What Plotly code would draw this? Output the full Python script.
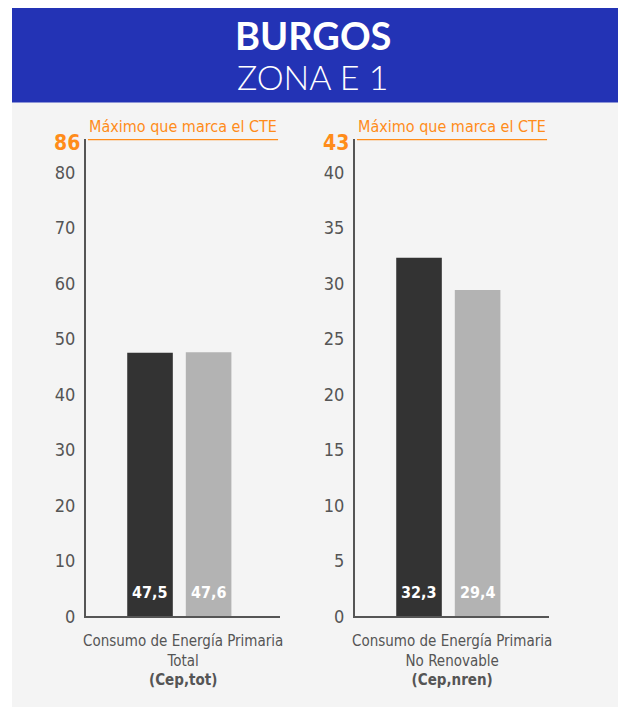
import plotly.graph_objects as go

# ---- data ----
series_names = ["Proyecto", "Referencia"]
values_tot = [47.5, 47.6]
values_nren = [32.3, 29.4]
max_tot = 86
max_nren = 43
ticks_tot = [0, 10, 20, 30, 40, 50, 60, 70, 80]
ticks_nren = [0, 5, 10, 15, 20, 25, 30, 35, 40]
label_tot = ["Consumo de Energía Primaria", "Total", "(Cep,tot)"]
label_nren = ["Consumo de Energía Primaria", "No Renovable", "(Cep,nren)"]
max_label = "Máximo que marca el CTE"
title_main = "BURGOS"
title_sub = "ZONA E 1"

W, H = 625, 717
bar_colors = ["#333333", "#b3b3b3"]
bar_pos = [0.33, 0.632]
NARROW = "DejaVu Sans Condensed, Liberation Sans Narrow, sans-serif"
ORANGE = "#ff8c1a"
GRAY = "#555555"

fig = go.Figure()


def px_x(p):
    return p / W


def px_y(p):
    return (H - p) / H


ydom = [px_y(625), px_y(141)]
dom_left = [px_x(86), px_x(280)]
dom_right = [px_x(355), px_x(549)]

for vals, xa, ya in [(values_tot, "x", "y"), (values_nren, "x2", "y2")]:
    fig.add_trace(go.Bar(
        x=bar_pos, y=vals, width=0.235,
        marker=dict(color=bar_colors, line=dict(width=0)),
        xaxis=xa, yaxis=ya, showlegend=False, hoverinfo="skip",
    ))

axis_common = dict(showgrid=False, zeroline=False, showline=True, linecolor=GRAY,
                   linewidth=2, ticks="", tickfont=dict(family=NARROW, size=18, color=GRAY))

fig.update_layout(
    width=W, height=H,
    margin=dict(l=0, r=0, t=0, b=0),
    paper_bgcolor="white", plot_bgcolor="rgba(0,0,0,0)",
    separators=",.",
    xaxis=dict(domain=dom_left, range=[0, 1], showgrid=False, zeroline=False,
               showline=True, linecolor=GRAY, linewidth=2, showticklabels=False, ticks=""),
    xaxis2=dict(domain=dom_right, range=[0, 1], showgrid=False, zeroline=False,
                showline=True, linecolor=GRAY, linewidth=2, showticklabels=False, ticks="",
                anchor="y2"),
    yaxis=dict(domain=ydom, range=[0, max_tot], tickvals=ticks_tot, ticklabelstandoff=5,
               anchor="x", **axis_common),
    yaxis2=dict(domain=ydom, range=[0, max_nren], tickvals=ticks_nren, ticklabelstandoff=5,
                anchor="x2", **axis_common),
)

shapes = [
    dict(type="rect", xref="paper", yref="paper", x0=px_x(12), x1=px_x(618),
         y0=0, y1=px_y(104), fillcolor="#f4f4f4", line=dict(width=0), layer="below"),
    dict(type="rect", xref="paper", yref="paper", x0=px_x(12), x1=px_x(618),
         y0=px_y(104), y1=px_y(8), fillcolor="#2333b5", line=dict(width=0), layer="below"),
    dict(type="line", xref="x", yref="y", x0=0.01, x1=0.99, y0=max_tot, y1=max_tot,
         line=dict(color=ORANGE, width=2.5)),
    dict(type="line", xref="x2", yref="y2", x0=0.01, x1=0.99, y0=max_nren, y1=max_nren,
         line=dict(color=ORANGE, width=2.5)),
]
fig.update_layout(shapes=shapes)

ann = [
    dict(text=f"<b>{title_main}</b>", xref="paper", yref="paper", x=0.5, y=px_y(36),
         showarrow=False, font=dict(family="Lato", size=38, color="white"),
         xanchor="center", yanchor="middle"),
    dict(text=title_sub, xref="paper", yref="paper", x=0.5, y=px_y(78),
         showarrow=False, font=dict(family="Lato", size=34, color="white", weight=300),
         xanchor="center", yanchor="middle"),
]
for xr, yr, mx, lab, vals in [("x", "y", max_tot, label_tot, values_tot),
                              ("x2", "y2", max_nren, label_nren, values_nren)]:
    ann.append(dict(text=f"<b>{mx}</b>", xref=f"{xr} domain", yref=yr, x=0, y=mx,
                    xanchor="right", yanchor="middle", xshift=-4, yshift=-4, showarrow=False,
                    font=dict(family=NARROW, size=21, color=ORANGE)))
    ann.append(dict(text=max_label, xref=f"{xr} domain", yref=yr, x=0.5, y=mx,
                    xanchor="center", yanchor="bottom", yshift=1, showarrow=False,
                    font=dict(family=NARROW, size=16, color=ORANGE)))
    ann.append(dict(text=f"{lab[0]}<br>{lab[1]}<br><b>{lab[2]}</b>", xref=f"{xr} domain",
                    yref="paper", x=0.5, y=px_y(639), xanchor="center", yanchor="top",
                    showarrow=False, align="center",
                    font=dict(family=NARROW, size=15, color=GRAY)))
    for xp, v in zip(bar_pos, vals):
        ann.append(dict(text=f"<b>{v:.1f}</b>".replace(".", ","), xref=xr, yref=yr,
                        x=xp, y=0, xanchor="center", yanchor="middle", yshift=24,
                        showarrow=False,
                        font=dict(family=NARROW, size=16, color="white")))
fig.update_layout(annotations=ann)

fig.write_html(
    "out.html",
    config={"displayModeBar": False},
    post_script=(
        "var h=document.documentElement, b=document.body;"
        "b.style.margin='0'; b.style.height='717px'; b.style.overflow='hidden';"
        "h.style.height='717px'; h.style.overflow='hidden';"
    ),
)
